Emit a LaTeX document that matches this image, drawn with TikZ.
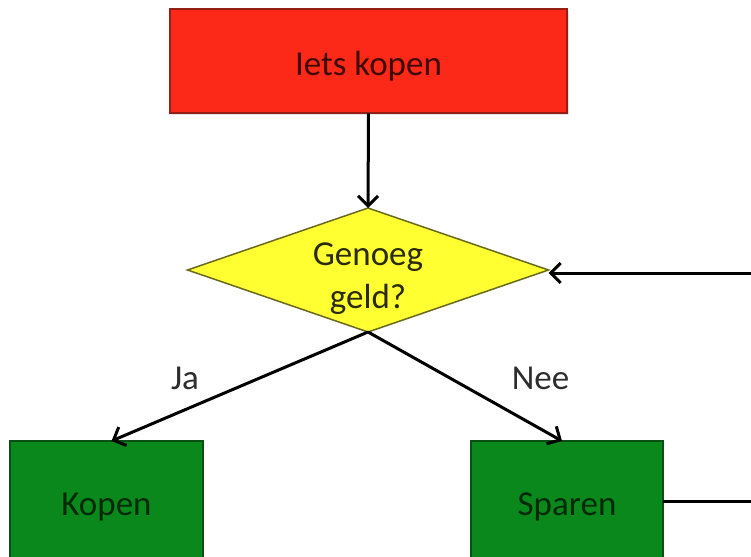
\documentclass[tikz,border=0pt]{standalone}
\usepackage{fontspec}
\setmainfont{Carlito}
\usetikzlibrary{arrows.meta,shapes.geometric,shadows}
\definecolor{redfill}{RGB}{252,40,24}
\definecolor{redline}{RGB}{150,30,20}
\definecolor{yelfill}{RGB}{255,255,50}
\definecolor{yelline}{RGB}{105,105,30}
\definecolor{grnfill}{RGB}{10,136,28}
\definecolor{grnline}{RGB}{10,80,20}
\definecolor{lbl}{RGB}{45,45,45}
\begin{document}
\begin{tikzpicture}[x=1pt,y=1pt,
  every node/.style={font=\fontsize{35}{43}\selectfont, inner sep=0pt, outer sep=0pt},
  softshadow/.style={drop shadow={opacity=0.2, shadow xshift=2pt, shadow yshift=-2pt}},
  startbox/.style={rectangle, fill=redfill, draw=redline, line width=1.5pt,
    minimum width=397pt, minimum height=104pt, text height=30pt, text depth=0pt,
    text=redfill!25!black, softshadow},
  decbox/.style={diamond, fill=yelfill, draw=yelline, line width=1.5pt,
    minimum width=361pt, minimum height=124pt, aspect=2.9},
  dectext/.style={align=center, text=yelline!40!black},
  actbox/.style={rectangle, fill=grnfill, draw=grnline, line width=1.5pt,
    minimum height=120pt, text height=28pt, text depth=0pt, text=grnfill!30!black},
  edgelabel/.style={anchor=base, text=lbl},
  conn/.style={line width=3pt, draw=black, -{Straight Barb[length=10pt,width=20pt]}}
]
\useasboundingbox (0,0) rectangle (751,-556);
\clip (0,0) rectangle (751,-556);

\node[startbox] (r) at (368.5,-61) {Iets kopen};
\node[decbox] (d) at (368,-270) {};
\node[dectext] (dt) at (368,-279) {Genoeg\\geld?};
\node[actbox, minimum width=193pt] (k) at (106.5,-501) {Kopen};
\node[actbox, minimum width=192pt] (s) at (567,-501) {Sparen};

\node[edgelabel] (ja) at (185,-389) {Ja};
\node[edgelabel] (nee) at (540.5,-389) {Nee};

\coordinate (fb) at (790,-501);

\draw[conn] (r.south) -- (d.north);
\draw[conn] (d.south) -- ([xshift=5pt]k.north);
\draw[conn] (d.south) -- ([xshift=-5pt]s.north);
\draw[conn] (s.east) -- (fb) |- ([yshift=-3pt]d.east);
\end{tikzpicture}
\end{document}
